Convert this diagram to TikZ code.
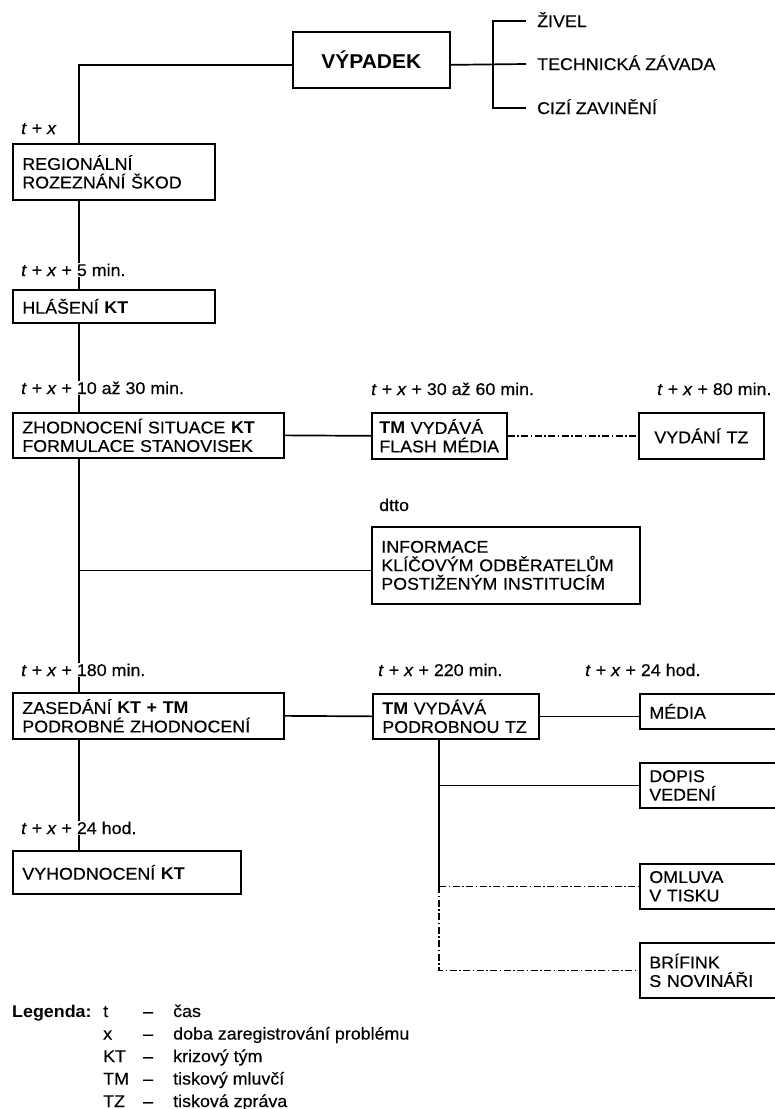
\documentclass[tikz,border=0pt]{standalone}
\usepackage{fontspec}
\setmainfont{Liberation Sans}[FakeStretch=1.05,
  UprightFeatures={FakeBold=0.35}, ItalicFeatures={FakeBold=0.35}]
\hyphenpenalty=10000
\exhyphenpenalty=10000
\begin{document}
\begin{tikzpicture}[x=1pt,y=-1pt,
  conn/.style={line width=1.7pt},
  dd/.style={line width=1.6pt, dash pattern=on 7pt off 2.5pt on 1.5pt off 2.5pt},
  box/.style={draw, line width=1.7pt, anchor=north west, inner xsep=9.5pt, inner ysep=0pt,
    align=left, font=\fontsize{17}{18.5}\selectfont},
  lbl/.style={anchor=west, inner sep=1pt, font=\fontsize{17}{18.5}\selectfont,
    text height=12pt, text depth=0pt},
  tlbl/.style={lbl, fill=white},
  leg/.style={anchor=base west, inner sep=0pt, font=\fontsize{17}{22}\selectfont}]

\useasboundingbox (0,0) rectangle (775,1109);
\clip (0,0) rectangle (775,1109);

% axis lines of the two vertical chains
\coordinate (spine) at (79,0);
\coordinate (spine2) at (439,0);
\coordinate (brk) at (493,0);

% boxes
\node[box, minimum width=157pt, minimum height=56pt, text width=138pt, align=center,
  font=\fontsize{20}{22}\selectfont\bfseries] (vypadek) at (292,31) {VÝPADEK};
\node[box, minimum width=202pt, minimum height=56pt, text width=183pt] (reg) at (12,143)
  {REGIONÁLNÍ\\ROZEZNÁNÍ ŠKOD};
\node[box, minimum width=202pt, minimum height=33pt, text width=183pt] (hlas) at (12,289)
  {HLÁŠENÍ \textbf{KT}};
\node[box, minimum width=271pt, minimum height=45pt, text width=252pt] (zhod) at (12,412)
  {ZHODNOCENÍ SITUACE \textbf{KT}\\FORMULACE STANOVISEK};
\node[box, minimum width=135pt, minimum height=46pt, inner xsep=7.5pt, text width=120pt] (flash) at (371,412)
  {\textbf{TM} VYDÁVÁ\\FLASH~MÉDIA};
\node[box, minimum width=125pt, minimum height=46pt, text width=106pt, align=center] (vydani) at (638,412)
  {VYDÁNÍ TZ};
\node[box, minimum width=268pt, minimum height=77pt, text width=249pt] (info) at (371,526)
  {INFORMACE\\KLÍČOVÝM ODBĚRATELŮM\\POSTIŽENÝM INSTITUCÍM};
\node[box, minimum width=271pt, minimum height=46pt, text width=252pt] (zased) at (12,692)
  {ZASEDÁNÍ \textbf{KT + TM}\\PODROBNÉ ZHODNOCENÍ};
\node[box, minimum width=166pt, minimum height=45pt, text width=147pt] (podrob) at (372,693)
  {\textbf{TM} VYDÁVÁ\\PODROBNOU TZ};
\node[box, minimum width=150pt, minimum height=35pt, text width=131pt] (media) at (639,693)
  {MÉDIA};
\node[box, minimum width=150pt, minimum height=45pt, text width=131pt] (dopis) at (639,762)
  {DOPIS\\VEDENÍ};
\node[box, minimum width=228pt, minimum height=43pt, text width=209pt] (vyhod) at (12,850)
  {VYHODNOCENÍ \textbf{KT}};
\node[box, minimum width=150pt, minimum height=45pt, text width=131pt] (omluva) at (639,863)
  {OMLUVA\\V TISKU};
\node[box, minimum width=150pt, minimum height=55pt, text width=131pt] (brif) at (639,942)
  {BRÍFINK\\S NOVINÁŘI};

% causes
\node[lbl] (zivel) at (536,21) {ŽIVEL};
\node[lbl] (tech) at (536,64) {TECHNICKÁ ZÁVADA};
\node[lbl] (cizi) at (536,108) {CIZÍ ZAVINĚNÍ};

% connectors
\draw[conn] ([yshift=-5pt]vypadek.west) -| (spine |- reg.north);
\draw[conn] ([yshift=-5pt]vypadek.east) -- ([xshift=-10pt]tech.west);
\draw[conn] ([xshift=-10pt]zivel.west) -| (brk |- cizi.west) -- ([xshift=-10pt]cizi.west);
\draw[conn] (spine |- reg.south) -- (spine |- hlas.north);
\draw[conn] (spine |- hlas.south) -- (spine |- zhod.north);
\draw[conn] (spine |- zhod.south) -- (spine |- zased.north);
\draw[conn] (spine |- info.west) ++(0,5) -- ([yshift=-5pt]info.west);
\draw[conn] (spine |- zased.south) -- (spine |- vyhod.north);
\draw[conn] (zhod.east) -- (flash.west);
\draw[dd] (flash.east) -- (vydani.west);
\draw[conn] (zased.east) -- (podrob.west);
\draw[conn] (podrob.east) -- (podrob.east -| media.west);
\draw[conn] (spine2 |- podrob.south) -- (spine2 |- omluva.west);
\draw[conn] (spine2 |- dopis.west) -- (dopis.west);
\draw[dd] (spine2 |- omluva.west) -- (omluva.west);
\draw[dd] (spine2 |- omluva.west) -- (spine2 |- brif.west) -- (brif.west);

% time marks
\node[tlbl] (t0) at (20,128) {\textit{t} + \textit{x}};
\node[tlbl] (t1) at (20,270) {\textit{t} + \textit{x} + 5 min.};
\node[tlbl] (t2) at (20,388) {\textit{t} + \textit{x} + 10 až 30 min.};
\node[tlbl] (t3) at (370,389) {\textit{t} + \textit{x} + 30 až 60 min.};
\node[tlbl] (t4) at (656,389) {\textit{t} + \textit{x} + 80 min.};
\node[tlbl] (t5) at (378,505) {dtto};
\node[tlbl] (t6) at (20,670) {\textit{t} + \textit{x} + 180 min.};
\node[tlbl] (t7) at (377,670) {\textit{t} + \textit{x} + 220 min.};
\node[tlbl] (t8) at (584,670) {\textit{t} + \textit{x} + 24 hod.};
\node[tlbl] (t9) at (20,828) {\textit{t} + \textit{x} + 24 hod.};

% legend
\node[leg, font=\fontsize{17}{22}\selectfont\bfseries] (legh) at (12,1017) {Legenda:};
\foreach \k/\d [count=\i] in {t/čas, x/doba zaregistrování problému, KT/krizový tým,
    TM/tiskový mluvčí, TZ/tisková zpráva} {
  \node[leg] (legk\i) at (103,994.5+22.5*\i) {\k};
  \node[leg] (legs\i) at (143,994.5+22.5*\i) {–};
  \node[leg] (legd\i) at (173,994.5+22.5*\i) {\d};
}
\end{tikzpicture}
\end{document}
